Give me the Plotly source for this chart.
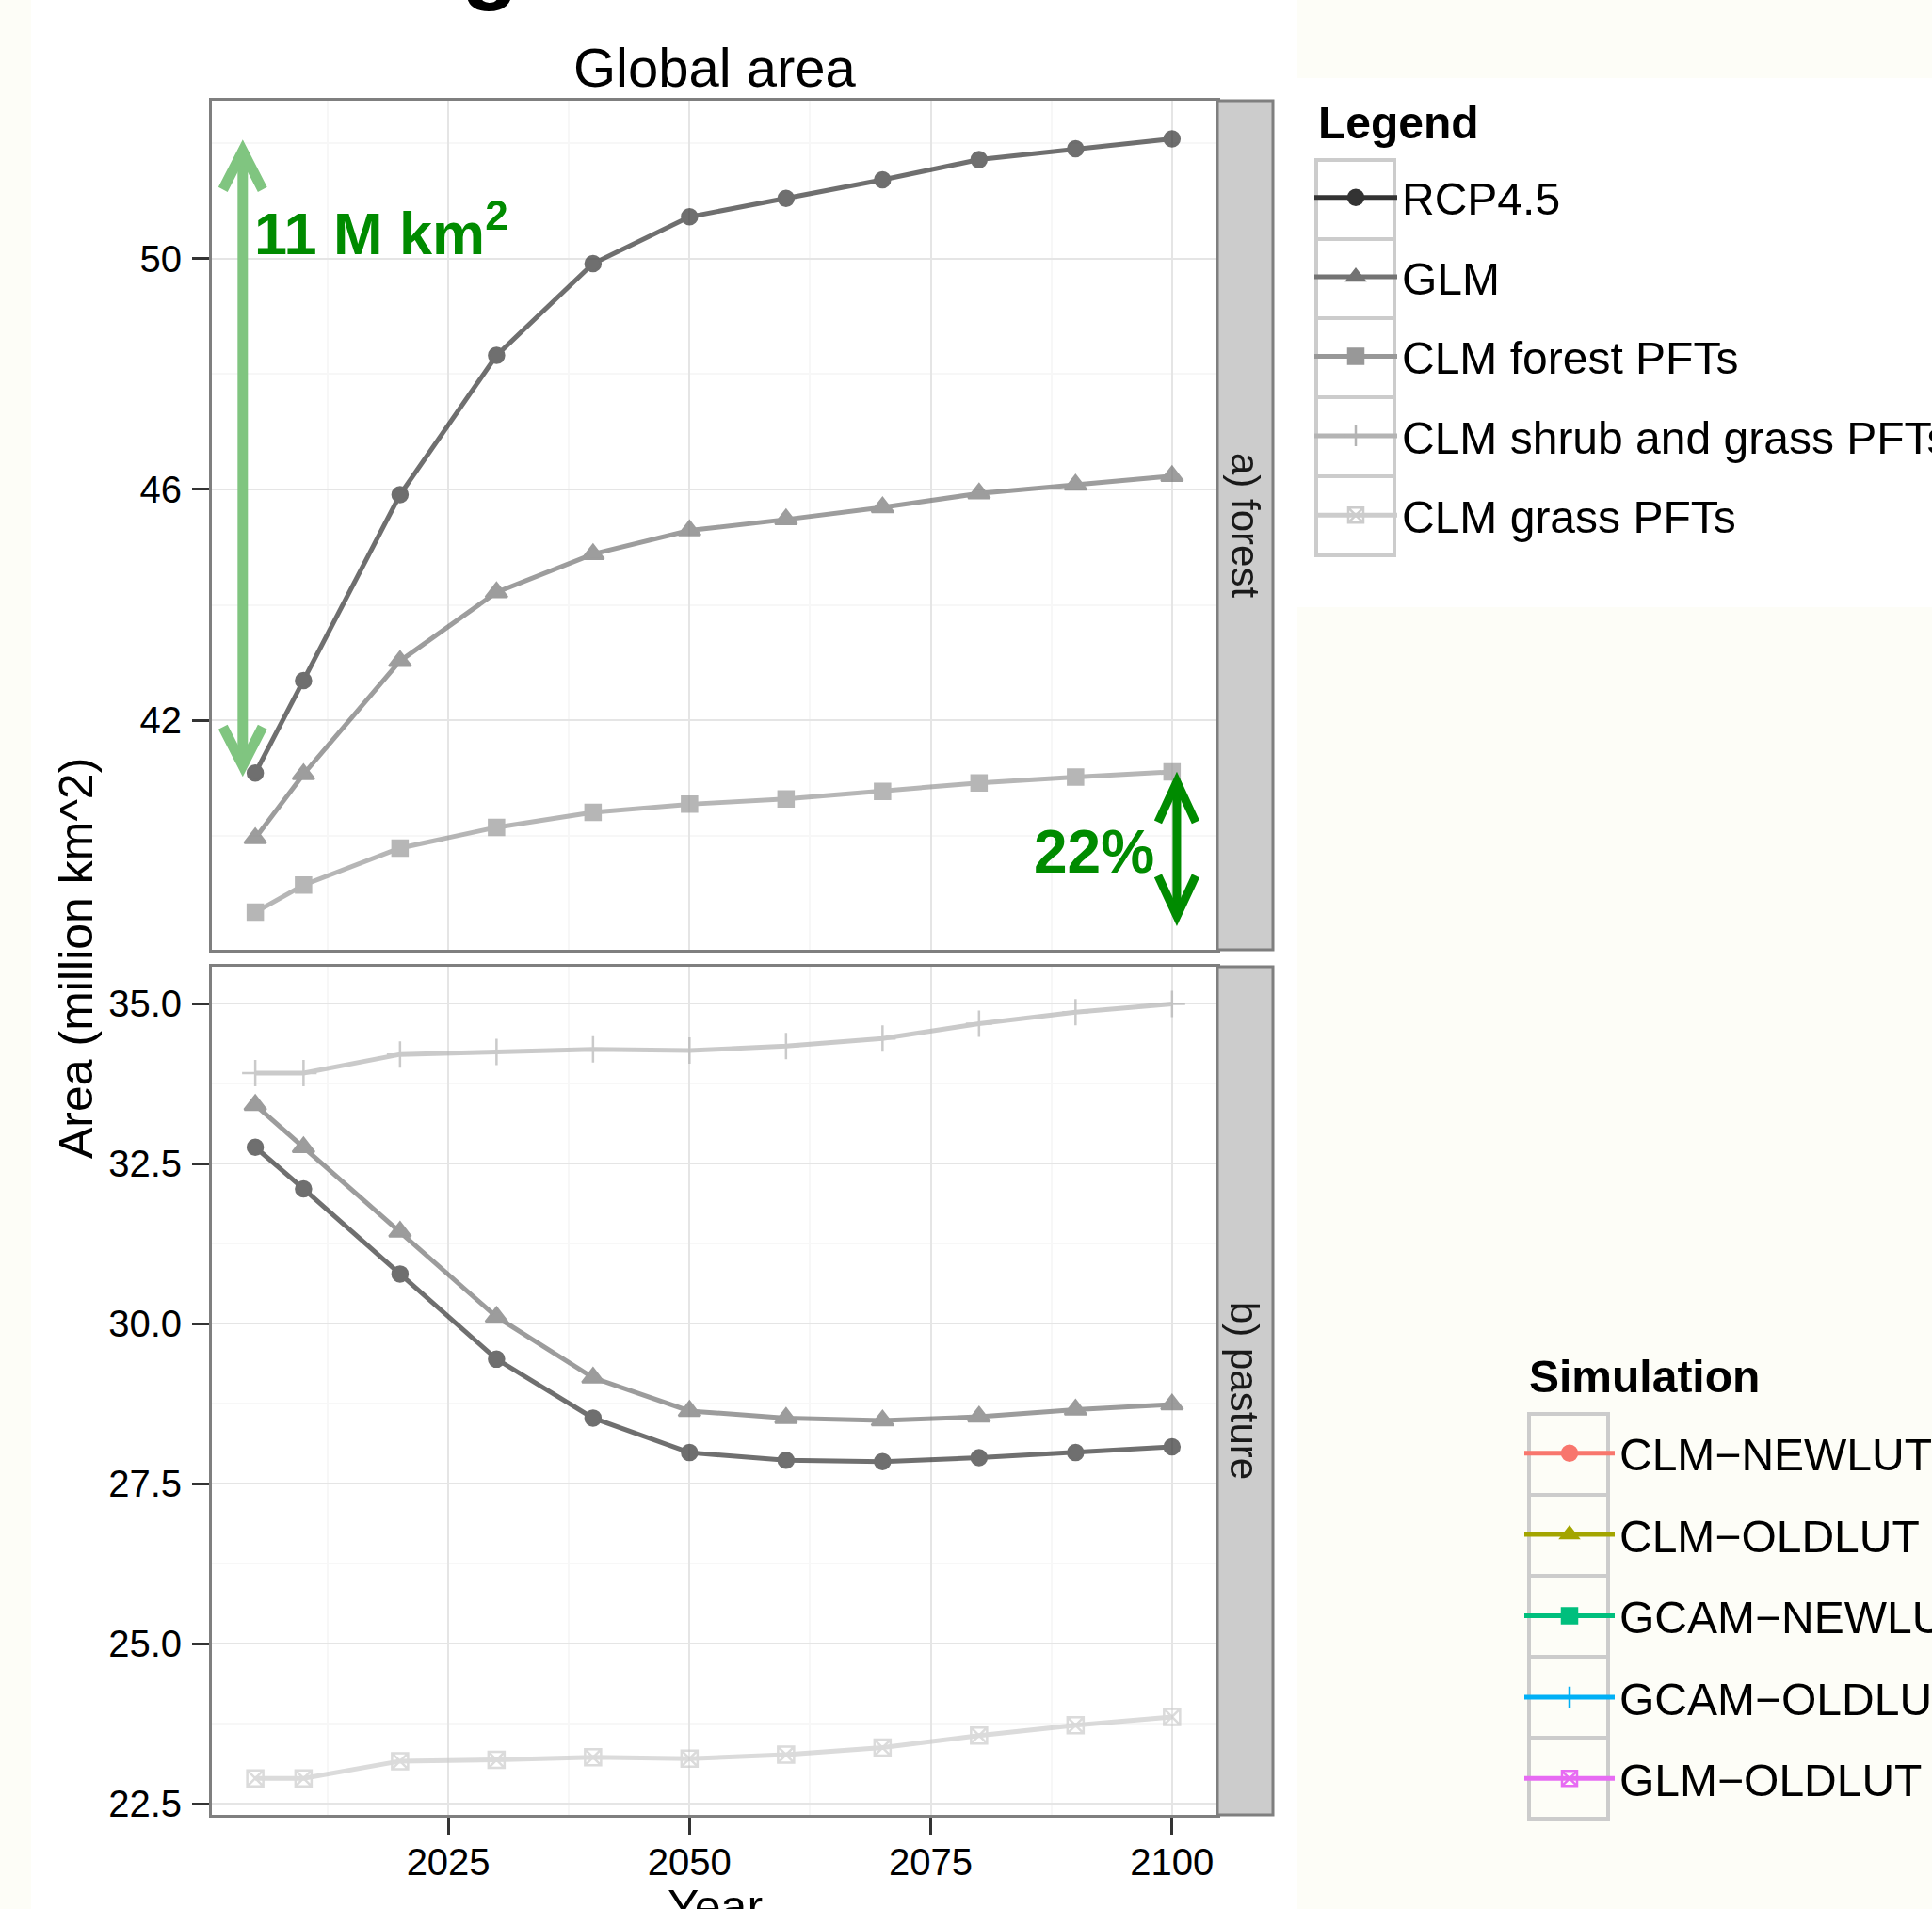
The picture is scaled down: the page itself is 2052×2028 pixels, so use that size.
import plotly.graph_objects as go

W, H = 2052, 2028
FONT = "Liberation Sans, Arial, Helvetica, sans-serif"

# ---------------- data ----------------
years = [2005, 2010, 2020, 2030, 2040, 2050, 2060, 2070, 2080, 2090, 2100]

forest_rcp45 = [41.09, 42.69, 45.91, 48.32, 49.91, 50.72, 51.04, 51.36, 51.71, 51.90, 52.07]
forest_glm = [39.96, 41.07, 43.03, 44.22, 44.88, 45.29, 45.48, 45.69, 45.93, 46.08, 46.23]
forest_clm_forest = [38.68, 39.15, 39.79, 40.15, 40.41, 40.55, 40.64, 40.77, 40.92, 41.02, 41.11]

pasture_rcp45 = [32.76, 32.11, 30.78, 29.45, 28.53, 27.99, 27.87, 27.85, 27.91, 27.99, 28.08]
pasture_glm = [33.42, 32.76, 31.44, 30.11, 29.16, 28.64, 28.53, 28.49, 28.55, 28.66, 28.74]
pasture_clm_shrub_grass = [33.92, 33.92, 34.21, 34.25, 34.29, 34.27, 34.34, 34.46, 34.69, 34.87, 35.00]
pasture_clm_grass = [22.90, 22.90, 23.17, 23.19, 23.23, 23.21, 23.27, 23.38, 23.57, 23.73, 23.86]

legend_names = ["RCP4.5", "GLM", "CLM forest PFTs", "CLM shrub and grass PFTs", "CLM grass PFTs"]
legend_colors = ["#333333", "#737373", "#989898", "#b4b4b4", "#cccccc"]
legend_symbols = ["circle", "triangle-up", "square", "cross-thin-open", "square-x-open"]

sim_names = ["CLM\u2212NEWLUT", "CLM\u2212OLDLUT", "GCAM\u2212NEWLUT", "GCAM\u2212OLDLUT", "GLM\u2212OLDLUT"]
sim_colors = ["#F8766D", "#A3A500", "#00BF7D", "#00B0F6", "#E76BF3"]
sim_symbols = ["circle", "triangle-up", "square", "cross-thin-open", "square-x-open"]

x_ticks = [2025, 2050, 2075, 2100]
x_minor = [2012.5, 2037.5, 2062.5, 2087.5]
forest_ticks = [42, 46, 50]
forest_minor = [40, 44, 48, 52]
pasture_ticks = [22.5, 25.0, 27.5, 30.0, 32.5, 35.0]
pasture_tick_text = ["22.5", "25.0", "27.5", "30.0", "32.5", "35.0"]
pasture_minor = [23.75, 26.25, 28.75, 31.25, 33.75]

# annotated ranges (arrows)
arrow_11m = (forest_rcp45[0] + 0.13, forest_rcp45[-1] - 0.21)
arrow_22pct = (38.61, forest_clm_forest[-1] - 0.17)

panels = {
    "forest": [("RCP4.5", forest_rcp45), ("GLM", forest_glm), ("CLM forest PFTs", forest_clm_forest)],
    "pasture": [("RCP4.5", pasture_rcp45), ("GLM", pasture_glm),
                ("CLM shrub and grass PFTs", pasture_clm_shrub_grass), ("CLM grass PFTs", pasture_clm_grass)],
}

# ---------------- helpers (pixel -> paper) ----------------
def px(p):
    return p / W


def py(p):
    return 1 - p / H


style = {n: (c, s) for n, c, s in zip(legend_names, legend_colors, legend_symbols)}
msize = {"circle": 16, "triangle-up": 20, "square": 16, "cross-thin-open": 20, "square-x-open": 17}

fig = go.Figure()

for (panel, series), (xa, ya) in zip(panels.items(), [("x", "y"), ("x2", "y2")]):
    for name, vals in series:
        col, sym = style[name]
        fig.add_trace(go.Scatter(
            x=years, y=vals, mode="lines+markers", name=name, showlegend=False,
            xaxis=xa, yaxis=ya, opacity=0.7,
            line=dict(color=col, width=5),
            marker=dict(symbol=sym, size=msize[sym], color=col, line=dict(color=col, width=2.5)),
        ))

# legend entries (full colour keys)
for i, (n, c, s) in enumerate(zip(legend_names, legend_colors, legend_symbols)):
    fig.add_trace(go.Scatter(
        x=[None], y=[None], mode="lines+markers", name=n, legend="legend", legendgroup="g%d" % i,
        line=dict(color=c, width=5),
        marker=dict(symbol=s, size=msize[s], color=c, line=dict(color=c, width=2.5)),
    ))
for i, (n, c, s) in enumerate(zip(sim_names, sim_colors, sim_symbols)):
    fig.add_trace(go.Scatter(
        x=[None], y=[None], mode="lines+markers", name=n, legend="legend2", legendgroup="s%d" % i,
        line=dict(color=c, width=5),
        marker=dict(symbol=s, size=msize[s], color=c, line=dict(color=c, width=2.5)),
    ))

grid_major = "#e5e5e5"
grid_minor = "#f7f7f7"
axis_common = dict(
    showline=True, mirror=True, linecolor="#7f7f7f", linewidth=3,
    showgrid=True, gridcolor=grid_major, gridwidth=2, zeroline=False,
    tickfont=dict(family=FONT, size=40, color="#000000"),
)

x_dom = [px(225), px(1293)]
x_range = [2000.5, 2104.7]

fig.update_layout(
    width=W, height=H,
    margin=dict(l=0, r=0, t=0, b=0, autoexpand=False),
    paper_bgcolor="#fdfdf7",
    plot_bgcolor="#ffffff",
    font=dict(family=FONT, color="#000000"),
    xaxis=dict(domain=x_dom, range=x_range, anchor="y", showticklabels=False, ticks="",
               tickvals=x_ticks,
               minor=dict(tickvals=x_minor, showgrid=True, gridcolor=grid_minor, gridwidth=2, ticks=""),
               **axis_common),
    yaxis=dict(domain=[py(1009), py(107)], range=[38.03, 52.73], anchor="x",
               tickvals=forest_ticks, ticks="outside", ticklen=18, tickwidth=3, tickcolor="#333333",
               ticklabelstandoff=3,
               minor=dict(tickvals=forest_minor, showgrid=True, gridcolor=grid_minor, gridwidth=2, ticks=""),
               **axis_common),
    xaxis2=dict(domain=x_dom, range=x_range, anchor="y2", matches="x",
                tickvals=x_ticks, ticks="outside", ticklen=18, tickwidth=3, tickcolor="#333333",
                ticklabelstandoff=-5,
                minor=dict(tickvals=x_minor, showgrid=True, gridcolor=grid_minor, gridwidth=2, ticks=""),
                **axis_common),
    yaxis2=dict(domain=[py(1928), py(1027)], range=[22.33, 35.58], anchor="x2",
                tickvals=pasture_ticks, ticktext=pasture_tick_text,
                ticks="outside", ticklen=18, tickwidth=3, tickcolor="#333333",
                ticklabelstandoff=3,
                minor=dict(tickvals=pasture_minor, showgrid=True, gridcolor=grid_minor, gridwidth=2, ticks=""),
                **axis_common),
    legend=dict(
        x=px(1391), y=py(172), xanchor="left", yanchor="top",
        bgcolor="rgba(0,0,0,0)", borderwidth=0,
        font=dict(family=FONT, size=48, color="#000000"),
        itemwidth=88, tracegroupgap=19, traceorder="grouped", itemclick=False, itemdoubleclick=False,
    ),
    legend2=dict(
        x=px(1614), y=py(1506), xanchor="left", yanchor="top",
        bgcolor="rgba(0,0,0,0)", borderwidth=0,
        font=dict(family=FONT, size=48, color="#000000"),
        itemwidth=96, tracegroupgap=21, traceorder="grouped", itemclick=False, itemdoubleclick=False,
    ),
)

shapes = []
# white background blocks of the original image
shapes.append(dict(type="rect", xref="paper", yref="paper", x0=px(33), x1=px(1378), y0=0, y1=1,
                   fillcolor="#ffffff", line=dict(width=0), layer="below"))
shapes.append(dict(type="rect", xref="paper", yref="paper", x0=px(1378), x1=1, y0=py(645), y1=py(83),
                   fillcolor="#ffffff", line=dict(width=0), layer="below"))
# facet strips
for top, bot in [(107, 1009), (1027, 1928)]:
    shapes.append(dict(type="rect", xref="paper", yref="paper", x0=px(1293), x1=px(1352),
                       y0=py(bot), y1=py(top), fillcolor="#cccccc",
                       line=dict(color="#7f7f7f", width=3)))
# legend key boxes
for i in range(len(legend_names)):
    t = 170 + 84 * i
    shapes.append(dict(type="rect", xref="paper", yref="paper", x0=px(1398), x1=px(1481),
                       y0=py(t + 84), y1=py(t), line=dict(color="#cccccc", width=4), layer="below"))
for i in range(len(sim_names)):
    t = 1502 + 86 * i
    shapes.append(dict(type="rect", xref="paper", yref="paper", x0=px(1624), x1=px(1708),
                       y0=py(t + 86), y1=py(t), line=dict(color="#cccccc", width=4), layer="below"))

# annotation arrows
def double_arrow(xv, y_lo, y_hi, color, width, hw, hl):
    out = [dict(type="line", xref="x", yref="y", x0=xv, x1=xv, y0=y_lo, y1=y_hi,
                line=dict(color=color, width=width))]
    for yv, sgn in [(y_hi, -1), (y_lo, 1)]:
        out.append(dict(type="path", xref="x", yref="y", xsizemode="pixel", ysizemode="pixel",
                        xanchor=xv, yanchor=yv,
                        path="M%d,%d L0,0 L%d,%d" % (-hw, sgn * hl, hw, sgn * hl),
                        line=dict(color=color, width=width)))
    return out

shapes += double_arrow(2003.7, arrow_11m[0], arrow_11m[1], "#80c580", 11, 21, 41)
shapes += double_arrow(2100.5, arrow_22pct[0], arrow_22pct[1], "#008b00", 9, 20, 43)

fig.update_layout(shapes=shapes)

ann = [
    dict(text="Global area", xref="paper", yref="paper", x=px(759), y=py(71), showarrow=False,
         xanchor="center", yanchor="middle", font=dict(family=FONT, size=58, color="#000000")),
    dict(text="Area (million km^2)", xref="paper", yref="paper", x=px(81), y=py(1018), showarrow=False,
         textangle=-90, xanchor="center", yanchor="middle", font=dict(family=FONT, size=50, color="#000000")),
    dict(text="Year", xref="paper", yref="paper", x=px(759), y=py(1996), showarrow=False,
         xanchor="center", yanchor="top", font=dict(family=FONT, size=50, color="#000000")),
    dict(text="a) forest", xref="paper", yref="paper", x=px(1322), y=py(558), showarrow=False,
         textangle=90, xanchor="center", yanchor="middle", font=dict(family=FONT, size=42, color="#1a1a1a")),
    dict(text="b) pasture", xref="paper", yref="paper", x=px(1322), y=py(1477), showarrow=False,
         textangle=90, xanchor="center", yanchor="middle", font=dict(family=FONT, size=42, color="#1a1a1a")),
    dict(text="<b>Legend</b>", xref="paper", yref="paper", x=px(1398), y=py(131), showarrow=False,
         xanchor="left", yanchor="middle", font=dict(family=FONT, size=48, color="#000000")),
    dict(text="<b>Simulation</b>", xref="paper", yref="paper", x=px(1622), y=py(1462), showarrow=False,
         xanchor="left", yanchor="middle", font=dict(family=FONT, size=48, color="#000000")),
    dict(text="<b>11 M km<sup>2</sup></b>", xref="x", yref="y", x=2004.7, y=50.5, showarrow=False,
         xanchor="left", yanchor="middle", font=dict(family=FONT, size=63, color="#008b00")),
    dict(text="<b>22%</b>", xref="x", yref="y", x=2098.4, y=39.73, showarrow=False,
         xanchor="right", yanchor="middle", font=dict(family=FONT, size=64, color="#008b00")),
    dict(text="<b>g</b>", xref="paper", yref="paper", x=px(520), y=1 + 44 / H, showarrow=False,
         xanchor="center", yanchor="middle", font=dict(family=FONT, size=100, color="#000000")),
]
fig.update_layout(annotations=ann)

fig.write_html("out.html", config={"displayModeBar": False},
               post_script="document.body.style.margin='0';document.body.style.overflow='hidden';")
